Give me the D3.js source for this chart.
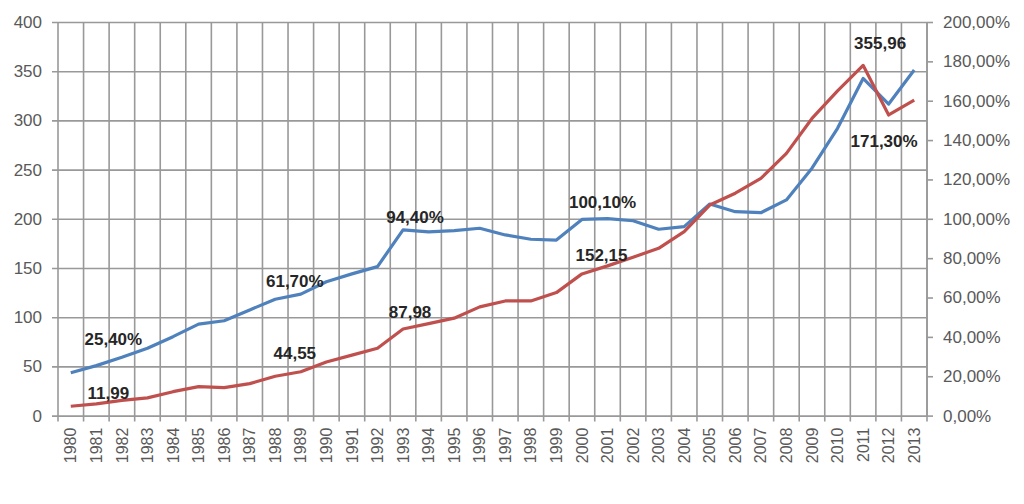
<!DOCTYPE html>
<html><head><meta charset="utf-8">
<script src="https://cdn.jsdelivr.net/npm/d3@7/dist/d3.min.js"></script>
<style>
html,body{margin:0;padding:0;background:#fff;}
svg{display:block;font-family:"Liberation Sans",Arial,sans-serif;}
</style></head>
<body><svg id="c" width="1024" height="504"></svg>
<script>
const years = d3.range(1980, 2014).map(String);
// red series, left axis (values)
const redValues = [9.5,11.99,15.5,18,24.3,29.5,28.5,32.5,40,44.55,54.5,61.5,68.5,87.98,93.5,99,110.5,116.5,116.5,125,144,152.15,161,170,187,214,226,241,266.5,302,330,355.96,305.5,320.5];
// blue series, right axis (percent)
const bluePercent = [21.8,25.40,29.6,34.2,40.1,46.5,48.2,53.7,59.1,61.70,68,72,75.7,94.40,93.4,94,95.2,91.8,89.6,89.2,99.7,100.10,99,94.7,96,107.5,103.6,103.1,109.6,125.7,146,171.30,158.3,175.6];
const leftTicks = [0,50,100,150,200,250,300,350,400];
const rightTicks = [0,20,40,60,80,100,120,140,160,180,200];
// data labels: series, year, text
const labels = [
  {s:"blue", year:"1981", text:"25,40%"},
  {s:"red",  year:"1981", text:"11,99"},
  {s:"blue", year:"1989", text:"61,70%"},
  {s:"red",  year:"1989", text:"44,55"},
  {s:"blue", year:"1993", text:"94,40%"},
  {s:"red",  year:"1993", text:"87,98"},
  {s:"blue", year:"2001", text:"100,10%"},
  {s:"red",  year:"2001", text:"152,15"},
  {s:"red",  year:"2011", text:"355,96"},
  {s:"blue", year:"2011", text:"171,30%"}
];
// label offsets (style) relative to point
const labelOffsets = [[17,-27],[12,-11],[-6,-13],[-6,-19],[12,-13],[7,-17],[-5,-17],[-6,-11],[17,-22],[21,63]];

const svg = d3.select("#c");
const L = 58, R = 927, T = 22, B = 415.6;
const x = d3.scaleBand().domain(years).range([L, R]);
const yL = d3.scaleLinear().domain([0,400]).range([B, T]);
const yR = d3.scaleLinear().domain([0,200]).range([B, T]);
const gridColor = "#999999";

// vertical gridlines at category boundaries
const bounds = years.map(y => x(y)).concat([R]);
svg.append("g").selectAll("line").data(bounds).join("line")
  .attr("x1", d=>d).attr("x2", d=>d).attr("y1", T).attr("y2", B+6)
  .attr("stroke", gridColor).attr("stroke-width", 1.6);

// left axis with horizontal gridlines
const gl = svg.append("g").attr("transform", `translate(${L},0)`)
  .call(d3.axisLeft(yL).tickValues(leftTicks).tickSize(6).tickPadding(10));
gl.select(".domain").remove();
gl.selectAll(".tick line").attr("stroke", gridColor).attr("stroke-width",1.6).attr("x2", R-L).attr("x1",-6);
gl.selectAll(".tick text").attr("fill","#595959").style("font-size","17px");

// right axis
const gr = svg.append("g").attr("transform", `translate(${R},0)`)
  .call(d3.axisRight(yR).tickValues(rightTicks).tickSize(6).tickPadding(10)
    .tickFormat(d => d.toFixed(2).replace(".", ",") + "%"));
gr.select(".domain").attr("stroke", gridColor).attr("stroke-width",1.6).attr("d", `M0,${T}V${B}`);
gr.selectAll(".tick line").attr("stroke", gridColor).attr("stroke-width",1.6);
gr.selectAll(".tick text").attr("fill","#595959").style("font-size","17px");

// x axis labels
const gx = svg.append("g").attr("transform", `translate(0,${B})`)
  .call(d3.axisBottom(x).tickSize(0).tickPadding(0));
gx.select(".domain").remove();
gx.selectAll(".tick text")
  .attr("fill","#595959").style("font-size","16px")
  .attr("transform","rotate(-90)").attr("text-anchor","end")
  .attr("x",-12).attr("y",0).attr("dy","0.35em");

// lines
const redLine = d3.line().x((d,i)=>x(years[i])+x.bandwidth()/2).y(d=>yL(d));
const blueLine = d3.line().x((d,i)=>x(years[i])+x.bandwidth()/2).y(d=>yR(d));
svg.append("path").datum(bluePercent).attr("d", blueLine)
  .attr("fill","none").attr("stroke","#4f81bd").attr("stroke-width",3.2).attr("stroke-linejoin","round");
svg.append("path").datum(redValues).attr("d", redLine)
  .attr("fill","none").attr("stroke","#c0504d").attr("stroke-width",3.2).attr("stroke-linejoin","round");

// data labels
svg.append("g").selectAll("text").data(labels).join("text")
  .attr("x", (d,i) => x(d.year) + x.bandwidth()/2 + labelOffsets[i][0])
  .attr("y", (d,i) => {
     const idx = years.indexOf(d.year);
     const py = d.s === "red" ? yL(redValues[idx]) : yR(bluePercent[idx]);
     return py + labelOffsets[i][1];
  })
  .attr("text-anchor","middle").attr("dy","0.35em")
  .attr("fill","#262626").style("font-size","17px").style("font-weight","bold")
  .text(d => d.text);
</script></body></html>
